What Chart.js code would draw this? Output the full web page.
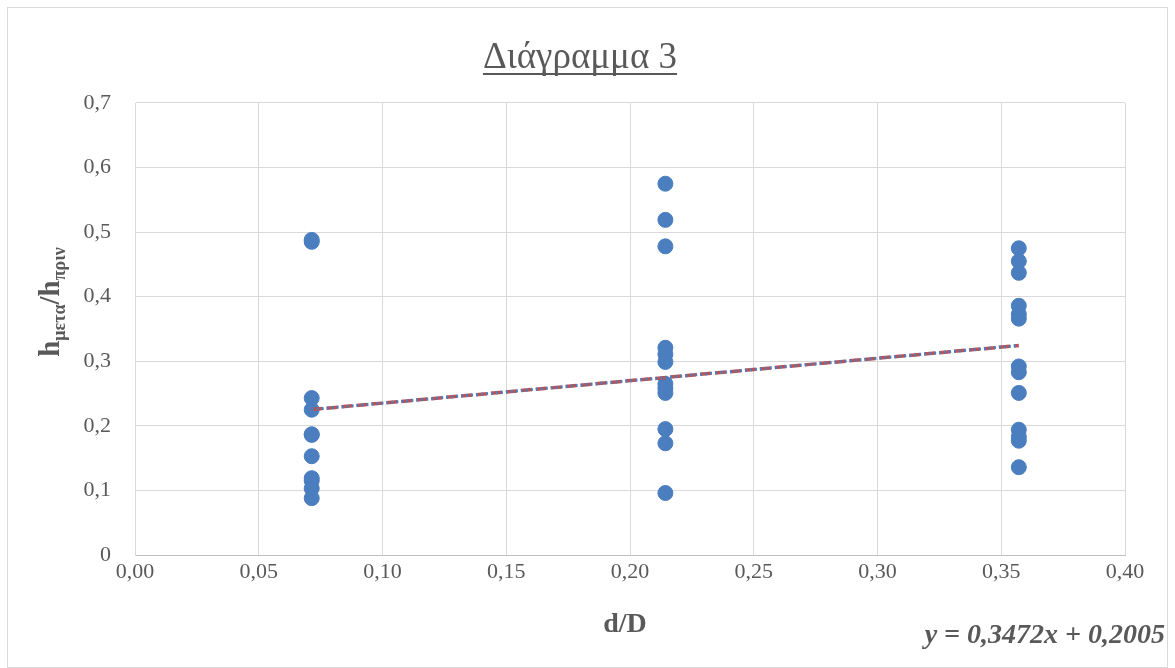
<!DOCTYPE html>
<html>
<head>
<meta charset="utf-8">
<script src="https://cdn.jsdelivr.net/npm/chart.js@4/dist/chart.umd.min.js"></script>
<style>
  html, body { margin: 0; padding: 0; background: #fff; }
  #wrap { width: 1175px; height: 668px; }
</style>
</head>
<body>
<div id="wrap"><canvas id="c" width="1175" height="668"></canvas></div>
<script>
// d/D groups
const groupX = [0.0714, 0.2143, 0.3571];
// h_meta / h_prin values per group
const group1 = [0.488, 0.485, 0.243, 0.225, 0.187, 0.186, 0.153, 0.119, 0.115, 0.103, 0.088];
const group2 = [0.575, 0.519, 0.478, 0.321, 0.311, 0.299, 0.265, 0.258, 0.251, 0.195, 0.173, 0.096];
const group3 = [0.475, 0.455, 0.437, 0.386, 0.373, 0.366, 0.292, 0.283, 0.251, 0.194, 0.183, 0.177, 0.136];
// trend line y = 0,3472x + 0,2005
const slope = 0.3472;
const intercept = 0.2005;
const xTicks = ['0,00', '0,05', '0,10', '0,15', '0,20', '0,25', '0,30', '0,35', '0,40'];
const yTicks = ['0', '0,1', '0,2', '0,3', '0,4', '0,5', '0,6', '0,7'];

const points = [];
[group1, group2, group3].forEach((g, i) => {
  g.forEach(v => points.push({ x: groupX[i], y: v }));
});
const trend = [
  { x: groupX[0], y: slope * groupX[0] + intercept },
  { x: groupX[2], y: slope * groupX[2] + intercept }
];

const grey = '#595959';
const serif = '"Liberation Serif", "Times New Roman", serif';

const decorations = {
  id: 'decorations',
  afterDraw(chart) {
    const { ctx } = chart;
    ctx.save();
    // outer border
    ctx.strokeStyle = '#d9d9d9';
    ctx.lineWidth = 1;
    ctx.strokeRect(7.5, 7.5, 1160, 660);

    // title
    ctx.fillStyle = grey;
    ctx.font = '37px ' + serif;
    ctx.textAlign = 'center';
    ctx.textBaseline = 'alphabetic';
    const title = 'Διάγραμμα 3';
    const tw = ctx.measureText(title).width;
    ctx.fillText(title, 580, 68);
    ctx.fillRect(580 - tw / 2, 73, tw, 2);

    // x axis title
    ctx.font = 'bold 28px ' + serif;
    ctx.fillText('d/D', 625, 632);

    // equation
    ctx.font = 'italic bold 28px ' + serif;
    ctx.textAlign = 'right';
    ctx.fillText('y = 0,3472x + 0,2005', 1165, 643);

    // y axis title with subscripts
    ctx.translate(59, 302);
    ctx.rotate(-Math.PI / 2);
    const parts = [
      ['h', 'bold 29px ', 0],
      ['μετα', 'bold 18px ', 6],
      ['/h', 'bold 29px ', 0],
      ['πριν', 'bold 18px ', 6]
    ];
    let total = 0;
    parts.forEach(p => { ctx.font = p[1] + serif; total += ctx.measureText(p[0]).width; });
    let x = -total / 2;
    ctx.textAlign = 'left';
    parts.forEach(p => {
      ctx.font = p[1] + serif;
      ctx.fillText(p[0], x, p[2]);
      x += ctx.measureText(p[0]).width;
    });
    ctx.restore();
  }
};

new Chart(document.getElementById('c'), {
  type: 'scatter',
  data: {
    datasets: [
      {
        label: 'trend-blue',
        type: 'line',
        data: trend,
        borderColor: '#4a7ebf',
        borderWidth: 3,
        borderDash: [2, 3],
        pointRadius: 0,
        fill: false
      },
      {
        label: 'trend-red',
        type: 'line',
        data: trend,
        borderColor: '#c0504d',
        borderWidth: 3.5,
        borderDash: [11, 4],
        pointRadius: 0,
        fill: false
      },
      {
        label: 'data',
        data: points,
        backgroundColor: '#4a7ebf',
        borderColor: '#4a7ebf',
        pointRadius: 7.5,
        pointHoverRadius: 7.5
      }
    ]
  },
  options: {
    responsive: false,
    animation: false,
    events: [],
    layout: { padding: { top: 103, right: 50, bottom: 0, left: 0 } },
    plugins: {
      legend: { display: false },
      tooltip: { enabled: false },
      title: { display: false }
    },
    scales: {
      x: {
        type: 'linear',
        min: 0, max: 0.4,
        afterFit: s => { s.height = 113; },
        afterBuildTicks: s => { s.ticks = xTicks.map((t, i) => ({ value: i * 0.05 })); },
        grid: { color: '#d9d9d9', drawTicks: false, lineWidth: 1 },
        border: { color: '#bfbfbf' },
        ticks: {
          padding: 4,
          color: grey,
          font: { family: serif, size: 22 },
          callback: (v, i) => xTicks[i]
        }
      },
      y: {
        min: 0, max: 0.7,
        afterFit: s => { s.width = 135; },
        afterBuildTicks: s => { s.ticks = yTicks.map((t, i) => ({ value: i * 0.1 })); },
        grid: { color: '#d9d9d9', drawTicks: false, lineWidth: 1 },
        border: { color: '#d9d9d9' },
        ticks: {
          padding: 24,
          color: grey,
          font: { family: serif, size: 22 },
          callback: (v, i) => yTicks[i]
        }
      }
    }
  },
  plugins: [decorations]
});
</script>
</body>
</html>
